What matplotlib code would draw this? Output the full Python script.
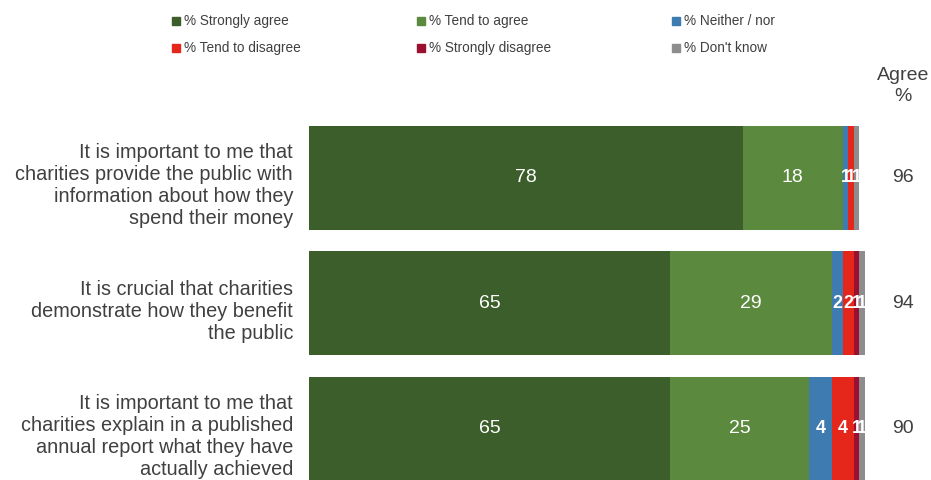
import matplotlib
matplotlib.use("Agg")
import matplotlib.pyplot as plt
from matplotlib.patches import Rectangle

plt.rcParams['font.family'] = ['Liberation Sans', 'DejaVu Sans']

statements = [
    "It is important to me that\ncharities provide the public with\ninformation about how they\nspend their money",
    "It is crucial that charities\ndemonstrate how they benefit\nthe public",
    "It is important to me that\ncharities explain in a published\nannual report what they have\nactually achieved",
]
series_names = ["% Strongly agree", "% Tend to agree", "% Neither / nor",
                "% Tend to disagree", "% Strongly disagree", "% Don't know"]
strongly_agree = [78, 65, 65]
tend_agree = [18, 29, 25]
neither = [1, 2, 4]
tend_disagree = [1, 2, 4]
strongly_disagree = [0, 1, 1]
dont_know = [1, 1, 1]
agree_total = [96, 94, 90]

colors = ["#3b5e2b", "#5b8a3e", "#3d7bb0", "#e5261b", "#9a1030", "#8d8d8d"]
series = [strongly_agree, tend_agree, neither, tend_disagree, strongly_disagree, dont_know]

W, H = 931, 480
fig = plt.figure(figsize=(W / 100, H / 100), dpi=100)
fig.patch.set_facecolor("white")

# axes: x 0..100 spans pixels 309..865; rows spaced 125.5 px, first centred at 178
x0, x1 = 309, 865
px = (x1 - x0) / 100
ax = fig.add_axes([x0 / W, 0, (x1 - x0) / W, 1])
row0, step = 178, 125.5
ax.set_ylim((H - row0) / step, -row0 / step)
ax.set_xlim(0, 100)
ax.axis("off")

bar_h = 104 / step
for i in range(len(statements)):
    left = 0
    for s, vals in enumerate(series):
        v = vals[i]
        if v > 0:
            ax.barh(i, v, left=left, height=bar_h, color=colors[s], edgecolor="none")
            small = v < 5
            ax.text(left + v / 2, i, str(v), ha="center", va="center",
                    color="white", fontsize=14 if not small else 13,
                    fontweight="bold" if small else "normal")
        left += v
    ax.text((293 - x0) / px, i + 0.06, statements[i], ha="right", va="center",
            fontsize=14.3, color="#404040", linespacing=1.2, clip_on=False)
    ax.text((903 - x0) / px, i, str(agree_total[i]), ha="center", va="center",
            fontsize=14, color="#404040", clip_on=False)

ax.text((903 - x0) / px, (86 - row0) / step, "Agree\n%", ha="center", va="center",
        fontsize=14, color="#404040", linespacing=1.3, clip_on=False)

# legend drawn in figure pixels
col_x = [172, 417, 672]
row_y = [21, 48]
for k, name in enumerate(series_names):
    r, c = divmod(k, 3)
    mx, my = col_x[c], row_y[r]
    fig.patches.append(Rectangle((mx / W, 1 - (my + 4) / H), 8 / W, 8 / H,
                                 transform=fig.transFigure, color=colors[k]))
    fig.text((mx + 12) / W, 1 - my / H, name, ha="left", va="center",
             fontsize=9.8, color="#404040")

fig.savefig("out.png", dpi=100, facecolor="white")
